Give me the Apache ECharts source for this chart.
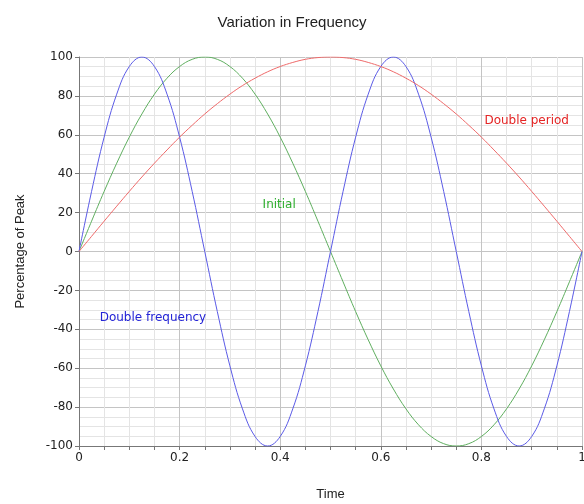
<!DOCTYPE html>
<html><head><meta charset="utf-8">
<script src="https://cdn.jsdelivr.net/npm/echarts@6/dist/echarts.min.js"></script>
<style>html,body{margin:0;padding:0;background:#fff}#c{width:584px;height:504px}</style>
</head><body><div id="c"></div>
<script>
const time = [0,0.025,0.05,0.075,0.1,0.125,0.15,0.175,0.2,0.225,0.25,0.275,0.3,0.325,0.35,0.375,0.4,0.425,0.45,0.475,0.5,0.525,0.55,0.575,0.6,0.625,0.65,0.675,0.7,0.725,0.75,0.775,0.8,0.825,0.85,0.875,0.9,0.925,0.95,0.975,1];
const initial = [0,15.6,30.9,45.4,58.8,70.7,80.9,89.1,95.1,98.8,100,98.8,95.1,89.1,80.9,70.7,58.8,45.4,30.9,15.6,0,-15.6,-30.9,-45.4,-58.8,-70.7,-80.9,-89.1,-95.1,-98.8,-100,-98.8,-95.1,-89.1,-80.9,-70.7,-58.8,-45.4,-30.9,-15.6,0];
const doubleFrequency = [0,30.9,58.8,80.9,95.1,100,95.1,80.9,58.8,30.9,0,-30.9,-58.8,-80.9,-95.1,-100,-95.1,-80.9,-58.8,-30.9,0,30.9,58.8,80.9,95.1,100,95.1,80.9,58.8,30.9,0,-30.9,-58.8,-80.9,-95.1,-100,-95.1,-80.9,-58.8,-30.9,0];
const doublePeriod = [0,7.8,15.6,23.3,30.9,38.3,45.4,52.2,58.8,64.9,70.7,76.0,80.9,85.3,89.1,92.4,95.1,97.2,98.8,99.7,100,99.7,98.8,97.2,95.1,92.4,89.1,85.3,80.9,76.0,70.7,64.9,58.8,52.2,45.4,38.3,30.9,23.3,15.6,7.8,0];
const seriesNames = ['Initial','Double frequency','Double period'];
const labelPos = {Initial:[0.398,24], 'Double frequency':[0.147,-34], 'Double period':[0.89,67]};

const lineColors = ['#5fae5f','#5a5ae6','#ee6a6a'];
const textColors = ['#2fae2f','#2424d6','#e42424'];
const values = [initial, doubleFrequency, doublePeriod];
const font = 'Tahoma, "DejaVu Sans", Verdana, sans-serif';

const chart = echarts.init(document.getElementById('c'));
chart.setOption({
  animation:false,
  title:{text:'Variation in Frequency',left:'center',top:10,textStyle:{fontFamily:'"Liberation Sans", Arial, sans-serif',fontSize:15,fontWeight:'normal',color:'#222'}},
  grid:{left:79,right:2,top:57,bottom:58,containLabel:false,outerBoundsMode:'none'},
  xAxis:{type:'value',min:0,max:1,interval:0.2,name:'Time',nameLocation:'middle',nameGap:42,
    nameTextStyle:{fontFamily:'"Liberation Sans", Arial, sans-serif',fontSize:13,color:'#222'},
    axisLine:{onZero:false,lineStyle:{color:'#777'}},
    axisTick:{show:true,length:4,lineStyle:{color:'#777'}},
    minorTick:{show:true,splitNumber:4,length:4,lineStyle:{color:'#777'}},
    axisLabel:{fontFamily:font,fontSize:12,color:'#222',margin:6,formatter:v=>String(+v.toFixed(1))},
    splitLine:{show:true,lineStyle:{color:'#c4c4c4'}},
    minorSplitLine:{show:true,lineStyle:{color:'#e4e4e4'}}},
  yAxis:{type:'value',min:-100,max:100,interval:20,name:'Percentage of Peak',nameLocation:'middle',nameGap:52,
    nameTextStyle:{fontFamily:'"Liberation Sans", Arial, sans-serif',fontSize:13,color:'#222'},
    axisLine:{show:true,onZero:false,lineStyle:{color:'#777'}},
    axisTick:{show:true,length:4,lineStyle:{color:'#777'}},
    minorTick:{show:false,splitNumber:4},
    axisLabel:{fontFamily:font,fontSize:12,color:'#222',margin:6},
    splitLine:{show:true,lineStyle:{color:'#c4c4c4'}},
    minorSplitLine:{show:true,lineStyle:{color:'#e4e4e4'}}},
  series: seriesNames.map((n,i)=>({
    name:n,type:'line',smooth:0.4,showSymbol:false,symbol:'none',
    lineStyle:{width:1,color:lineColors[i]},
    data: time.map((t,j)=>[t,values[i][j]]),
    markPoint:{symbol:'circle',symbolSize:0,silent:true,
      label:{show:true,formatter:n,color:textColors[i],fontFamily:font,fontSize:12,position:'inside'},
      data:[{coord:labelPos[n]}]}
  }))
});
</script></body></html>
